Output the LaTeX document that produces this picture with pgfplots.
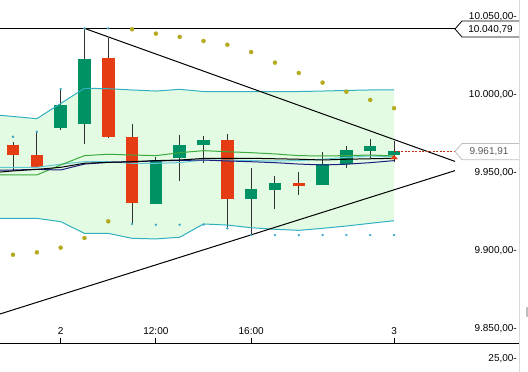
\documentclass[border=0pt]{standalone}
\usepackage{pgfplots}
\pgfplotsset{compat=1.18}
\usepackage{pgfplotstable}
\usepgfplotslibrary{fillbetween}
\usepackage{fontspec}
\setmainfont{Liberation Sans}

\definecolor{cred}{RGB}{230,60,20}
\definecolor{cgreen}{RGB}{0,145,100}
\definecolor{bandc}{RGB}{48,176,192}
\definecolor{midc}{RGB}{100,200,215}
\definecolor{mac}{RGB}{60,170,60}
\definecolor{navyc}{RGB}{30,30,130}
\definecolor{sarc}{RGB}{180,170,30}
\definecolor{fillc}{RGB}{226,251,226}
\definecolor{dotc}{RGB}{60,170,200}
\definecolor{wickc}{RGB}{50,50,50}

\pgfplotstableread{
i o h l c
2 9977.1 10001.9 9975.6 9991.7
3 9979.7 10040.79 9967.1 10021.2
6 9928.4 9958.5 9928.2 9956.4
7 9957.5 9972.4 9943.1 9966.0
8 9966.3 9971.8 9954.7 9969.2
10 9931.6 9951.1 9908.3 9937.8
11 9937.4 9946.2 9925.2 9941.7
13 9940.6 9961.3 9940.6 9953.9
14 9953.7 9965.4 9951.1 9962.8
15 9962.4 9969.9 9957.5 9965.6
16 9959.4 9968.8 9955.3 9961.91
}\upc

\pgfplotstableread{
i o h l c
0 9966.0 9967.9 9949.5 9959.6
1 9959.6 9974.5 9951.3 9952.1
4 10021.8 10034.4 9970.3 9971.2
5 9971.2 9979.9 9915.4 9929.0
9 9969.2 9973.1 9912.6 9931.6
12 9941.7 9948.7 9934.2 9939.9
}\downc

\pgfplotstableread{
i up mid low ma blk navy
-1 9985.7 9951.7 9919.0 9946.8 9948.1 9949.8
0 9984.3 9951.7 9919.0 9946.8 9949.4 9950.0
1 9982.9 9951.7 9919.0 9946.8 9950.4 9950.4
2 9992.6 9953.7 9916.9 9953.2 9951.7 9950.0
3 10002.4 9955.3 9909.4 9959.2 9954.3 9953.8
4 10002.1 9955.3 9909.4 9960.1 9954.9 9954.9
5 10001.3 9954.3 9906.2 9959.6 9955.3 9955.3
6 10000.6 9954.3 9905.8 9959.2 9956.0 9955.8
7 10001.7 9954.7 9906.9 9961.1 9956.4 9956.1
8 10000.3 9956.4 9915.4 9962.4 9957.4 9956.4
9 10000.3 9956.4 9914.7 9961.7 9957.5 9955.8
10 10000.3 9956.0 9913.0 9961.1 9957.5 9955.3
11 10000.3 9955.8 9912.0 9960.3 9957.2 9954.7
12 10000.3 9956.0 9911.3 9959.2 9956.9 9953.8
13 10000.6 9956.9 9912.6 9959.0 9956.4 9953.2
14 10001.0 9958.1 9914.1 9959.2 9956.9 9953.7
15 10001.3 9959.0 9915.8 9959.6 9957.2 9954.7
16 10001.3 9958.5 9917.5 9959.0 9957.5 9956.0
}\bands

\pgfplotstableread{
i v
0 9895.7
1 9897.2
2 9900.2
3 9906.4
4 9917.1
5 10040.2
6 10037.4
7 10035.3
8 10032.7
9 10030.3
10 10025.6
11 10018.8
12 10012.2
13 10006.0
14 10000.2
15 9994.9
16 9989.6
}\sar

\pgfplotstableread{
i v
0 9971.3
1 9974.5
2 10001.9
3 10040.79
4 10040.79
5 9915.4
6 9914.9
7 9914.9
8 9915.0
9 9912.6
10 9908.3
11 9908.3
12 9908.3
13 9908.3
14 9908.3
15 9908.3
16 9908.3
}\stops

\pgfplotsset{
  candle/.style 2 args={only marks, mark=*, mark size=0pt, mark options={draw=none, fill=none},
    error bars/.cd, y dir=both, y explicit, error mark=none,
    error bar style={solid, line width=#1, draw=#2}},
}

\begin{document}
\begin{tikzpicture}[x=1pt,y=1pt]
\begin{axis}[
  at={(0pt,29pt)}, anchor=south west,
  width=455pt, height=343pt, scale only axis,
  xmin=-0.546, xmax=18.56, ymin=9839.1, ymax=10058.97,
  axis line style={draw=none},
  xtick={2,6,10,16}, xticklabels={2,12:00,16:00,3},
  xtick pos=bottom, tick align=inside, major tick length=5pt,
  xtick style={black, line width=0.8pt},
  ytick={9850,9900,9950,10000,10050},
  yticklabels={{9.850,00-},{9.900,00-},{9.950,00-},{10.000,00-},{10.050,00-}},
  ytick pos=right, yticklabel pos=right,
  ytick style={draw=none},
  yticklabel style={anchor=east, inner sep=0pt, xshift=62pt, yshift=-2.5pt, font=\fontsize{10}{12}\selectfont},
  xticklabel style={anchor=center, inner sep=0pt, yshift=12pt, font=\fontsize{10}{12}\selectfont},
  clip=true,
]
% band fill
\addplot[draw=none, name path=U, forget plot] table[x=i,y=up]{\bands};
\addplot[draw=none, name path=L, forget plot] table[x=i,y=low]{\bands};
\addplot[fill=fillc, draw=none, forget plot] fill between[of=U and L];

% wicks
\addplot[candle={1pt}{wickc}]
  table[x=i, y expr={(\thisrow{h}+\thisrow{l})/2}, y error expr={(\thisrow{h}-\thisrow{l})/2}]{\upc};
\addplot[candle={1pt}{wickc}]
  table[x=i, y expr={(\thisrow{h}+\thisrow{l})/2}, y error expr={(\thisrow{h}-\thisrow{l})/2}]{\downc};
% bodies
\addplot[candle={12.5pt}{cgreen}]
  table[x=i, y expr={(\thisrow{o}+\thisrow{c})/2}, y error expr={abs(\thisrow{o}-\thisrow{c})/2}]{\upc};
\addplot[candle={12.5pt}{cred}]
  table[x=i, y expr={(\thisrow{o}+\thisrow{c})/2}, y error expr={abs(\thisrow{o}-\thisrow{c})/2}]{\downc};

% bands
\addplot[bandc, line width=1pt, mark=none] table[x=i,y=up]{\bands};
\addplot[bandc, line width=1pt, mark=none] table[x=i,y=low]{\bands};
\addplot[midc, line width=1pt, mark=none] table[x=i,y=mid]{\bands};
\addplot[mac, line width=1pt, mark=none] table[x=i,y=ma]{\bands};
\addplot[navyc, line width=1pt, mark=none] table[x=i,y=navy]{\bands};
\addplot[black, line width=1pt, mark=none] table[x=i,y=blk]{\bands};

% trend lines
\addplot[black, line width=1pt, mark=none] coordinates {(-1,10040.79) (19,10040.79)};
\addplot[black, line width=1pt, mark=none] coordinates {(3,10040.79) (18.56,9955.5)};
\addplot[black, line width=1pt, mark=none] coordinates {(-0.546,9857.7) (18.56,9949.6)};
\addplot[cred!80!black, line width=0.8pt, dash pattern=on 2pt off 1.5pt, mark=none] coordinates {(16,9961.91) (18.56,9961.91)};

% SAR and stops
\addplot[only marks, mark=*, mark size=2pt, mark options={fill=sarc, draw=sarc}] table[x=i,y=v]{\sar};
\addplot[only marks, mark=*, mark size=1pt, mark options={fill=dotc, draw=dotc}] table[x=i,y=v]{\stops};
\addplot[only marks, mark=triangle*, mark size=4pt, mark options={fill=cred, draw=cred, yscale=0.6}] coordinates {(16,9957.8)};
\end{axis}
% frame decorations
\draw[line width=1pt] (0,28.7) -- (519,28.7);
\draw[black!15, line width=1pt] (519,0) -- (519,372);
\fill[black!25] (525.5,55) rectangle (528,65);
% price labels
\draw[black, line width=0.8pt, fill=white] (519,351) -- (462,351) -- (455,343) -- (462,335) -- (519,335);
\node[font=\fontsize{10}{12}\selectfont, inner sep=0pt] at (490.5,342.5) {10.040,79};
\draw[black!25, line width=0.8pt, fill=white] (519,228.5) -- (462,228.5) -- (455,220.6) -- (462,212.2) -- (519,212.2);
\node[font=\fontsize{10}{12}\selectfont, inner sep=0pt, text=black!65] at (489,220.1) {9.961,91};
\node[font=\fontsize{10}{12}\selectfont, inner sep=0pt, anchor=east] at (517,13.7) {25,00-};
\pgfresetboundingbox
\path[use as bounding box] (0,0) rectangle (528,372);
\end{tikzpicture}
\end{document}
